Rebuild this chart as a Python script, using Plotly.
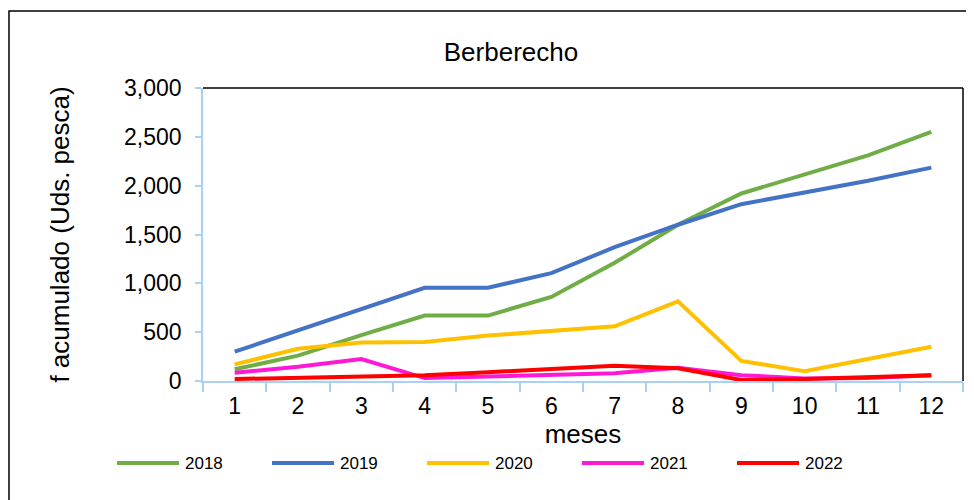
import plotly.graph_objects as go

# Data
meses = list(range(1, 13))
y2018 = [120, 260, 470, 670, 670, 860, 1210, 1600, 1920, 2120, 2310, 2550]
y2019 = [300, 520, 730, 955, 955, 1105, 1370, 1600, 1810, 1930, 2050, 2185]
y2020 = [170, 330, 395, 400, 465, 510, 560, 815, 205, 100, 220, 350]
y2021 = [85, 145, 225, 30, 45, 60, 80, 135, 60, 25, 30, 60]
y2022 = [20, 35, 50, 60, 90, 125, 155, 130, 10, 20, 40, 60]

series = [
    ("2018", y2018, "#70AD47"),
    ("2019", y2019, "#4472C4"),
    ("2020", y2020, "#FFC000"),
    ("2021", y2021, "#FF19D6"),
    ("2022", y2022, "#FF0000"),
]

axis_blue = "#A9D1F7"
font_family = "Liberation Sans, Arial, sans-serif"

# page has an 8px body margin; figure sized to fit inside it
OFF = 8
FW, FH = 966, 492
# plot area in figure pixels
L, T, W, H = 203 - OFF, 88 - OFF, 760, 293


def px_x(px):
    # page pixel -> paper x
    return (px - OFF - L) / W


def px_y(py):
    # page pixel -> paper y
    return (T + H - (py - OFF)) / H


fig = go.Figure()
for name, vals, color in series:
    fig.add_trace(go.Scatter(
        x=meses, y=vals, mode="lines", name=name,
        line=dict(color=color, width=4), showlegend=False,
    ))

# Outer chart border
fig.add_shape(type="rect", xref="paper", yref="paper",
              x0=px_x(9), x1=px_x(968), y0=px_y(530), y1=px_y(11),
              line=dict(color="black", width=1.5))
# Top and right border of plot area
fig.add_shape(type="line", xref="paper", yref="paper",
              x0=0, x1=1, y0=1, y1=1, line=dict(color="black", width=1.5))
fig.add_shape(type="line", xref="paper", yref="paper",
              x0=1, x1=1, y0=0, y1=1, line=dict(color="black", width=1.5))

# Legend drawn below the axis (long line samples as in the original)
leg_y = px_y(463)
for i, (name, vals, color) in enumerate(series):
    x0 = 117 + i * 155
    fig.add_shape(type="line", xref="paper", yref="paper",
                  x0=px_x(x0), x1=px_x(x0 + 62), y0=leg_y, y1=leg_y,
                  line=dict(color=color, width=4))
    fig.add_annotation(xref="paper", yref="paper", x=px_x(x0 + 66), y=leg_y,
                       text=name, showarrow=False, xanchor="left",
                       yanchor="middle", font=dict(size=17, color="black"))

fig.update_layout(
    width=FW, height=FH,
    margin=dict(l=L, r=FW - L - W, t=T, b=FH - T - H),
    paper_bgcolor="white", plot_bgcolor="white",
    font=dict(family=font_family, color="black"),
    showlegend=False,
    title=dict(text="Berberecho", x=(511 - OFF) / FW, xanchor="center",
               xref="container", y=1 - (52 - OFF) / FH,
               yanchor="middle", font=dict(size=26, color="black")),
    xaxis=dict(
        range=[0.5, 12.5], tickmode="array", tickvals=meses,
        ticks="", showgrid=False, zeroline=False, automargin=False,
        showline=True, linecolor=axis_blue, linewidth=1.5,
        tickfont=dict(size=23), ticklabelstandoff=4,
        minor=dict(ticks="outside", tick0=0.5, dtick=1, ticklen=9,
                   tickcolor=axis_blue, tickwidth=1.5, showgrid=False),
        title=dict(text="meses", font=dict(size=26), standoff=4),
    ),
    yaxis=dict(
        range=[0, 3000], tickvals=[0, 500, 1000, 1500, 2000, 2500, 3000],
        tickformat=",", ticks="outside", ticklen=6, tickcolor=axis_blue,
        tickwidth=1.5, showgrid=False, zeroline=False, automargin=False,
        showline=True, linecolor=axis_blue, linewidth=1.5,
        tickfont=dict(size=23), ticklabelstandoff=9,
        title=dict(text="f acumulado (Uds. pesca)", font=dict(size=26),
                   standoff=47),
    ),
)

fig.write_html("out.html")
